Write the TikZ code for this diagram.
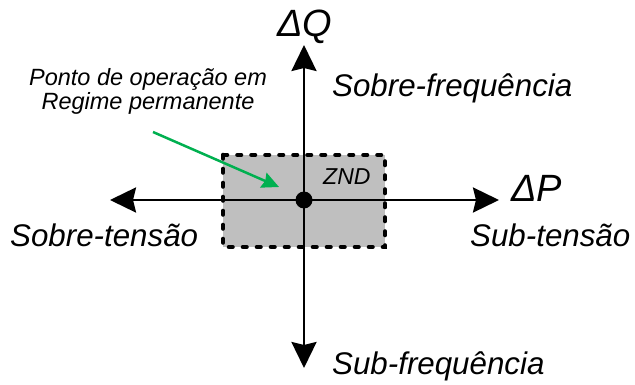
\documentclass[tikz,border=0pt]{standalone}
\usepackage{fontspec}
\setmainfont{Liberation Sans}
\usetikzlibrary{arrows.meta}
\definecolor{zgreen}{HTML}{00B050}
\definecolor{zgray}{HTML}{BFBFBF}
\tikzset{
  axis/.style={line width=2.8pt, -{Stealth[length=26pt,width=25pt,inset=3pt]}},
  biglabel/.style={inner sep=0pt, anchor=base west, font=\itshape\fontsize{31.3}{37}\selectfont},
  deltalabel/.style={inner sep=0pt, anchor=base west, font=\itshape\fontsize{38}{45}\selectfont},
  smalllabel/.style={inner sep=0pt, anchor=base, font=\itshape\fontsize{23.5}{28}\selectfont},
  zone/.style={draw=black, fill=zgray, line width=4.6pt, line cap=round, dash pattern=on 3.5pt off 10.5pt},
  pointer/.style={draw=zgreen, line width=2.5pt, -{Stealth[length=17pt,width=16pt,inset=2pt]}}
}
\begin{document}
\begin{tikzpicture}[x=1pt,y=-1pt]
\useasboundingbox (0,0) rectangle (635,385);
% zone
\draw[zone] (223,155) rectangle (385,247);
\node[inner sep=0pt, anchor=base west, font=\itshape\fontsize{23}{27}\selectfont] (znd) at (323,185) {ZND};
% axes
\node[circle, fill=black, minimum size=17pt, inner sep=0pt] (o) at (304,200) {};
\coordinate (qtop) at (304,45);
\coordinate (qbot) at (304,368);
\coordinate (pleft) at (110,200);
\coordinate (pright) at (499,200);
\draw[axis] (o.center) -- (qtop);
\draw[axis] (o.center) -- (qbot);
\draw[axis] (o.center) -- (pleft);
\draw[axis] (o.center) -- (pright);
% labels
\node[deltalabel] (dq) at (277,37) {ΔQ};
\node[deltalabel] (dp) at (511,202) {ΔP};
\node[biglabel] (sf) at (332,97) {Sobre-frequência};
\node[biglabel] (st) at (10,247) {Sobre-tensão};
\node[biglabel] (subt) at (470,246) {Sub-tensão};
\node[biglabel] (subf) at (332,374) {Sub-frequência};
\node[smalllabel] (l1) at (148,86) {Ponto de operação em};
\node[smalllabel] (l2) at (148,110) {Regime permanente};
% pointer
\coordinate (ps) at (153,132);
\coordinate (pe) at (279,187);
\draw[pointer] (ps) -- (pe);
\end{tikzpicture}
\end{document}
